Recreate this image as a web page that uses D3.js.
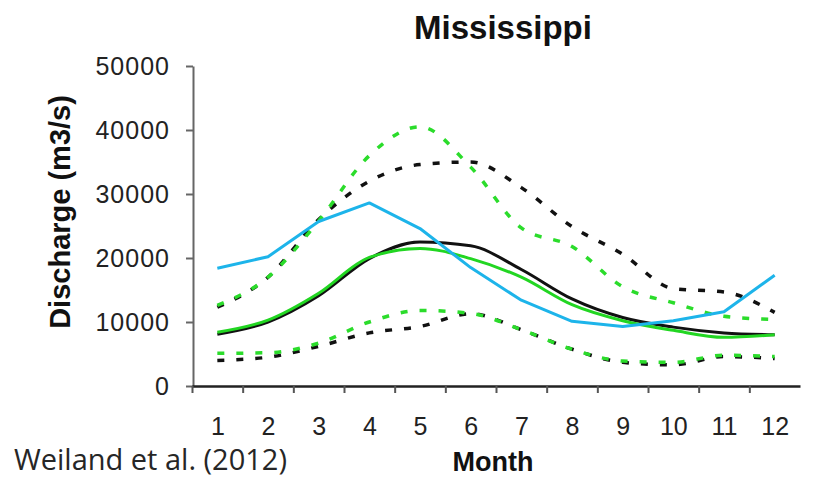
<!DOCTYPE html>
<html>
<head>
<meta charset="utf-8">
<script src="https://cdn.jsdelivr.net/npm/d3@7"></script>
<style>
  body { margin: 0; background: #fff; }
  svg { display: block; }
</style>
</head>
<body>
<svg id="canvas" width="814" height="479"></svg>
<script>
// monthly discharge of the Mississippi, m3/s
let months = [1, 2, 3, 4, 5, 6, 7, 8, 9, 10, 11, 12]
let yTicks = [0, 10000, 20000, 30000, 40000, 50000]

let blackSolid = [8100, 10000, 14100, 19900, 22500, 21900, 18200, 13600, 10700, 9200, 8300, 8000]
let greenSolid = [8400, 10300, 14500, 20100, 21500, 19900, 17000, 12700, 10200, 8700, 7600, 8000]
let cyanSolid  = [18400, 20200, 25700, 28600, 24600, 18500, 13400, 10100, 9300, 10200, 11600, 17300]
let blackUpper = [12300, 17000, 26000, 32000, 34600, 35000, 31000, 24900, 20600, 15200, 14700, 11500]
let greenUpper = [12600, 17000, 25800, 36000, 40500, 34200, 24700, 21800, 15500, 13000, 10900, 10400]
let blackLower = [4000, 4500, 6200, 8300, 9300, 11300, 8800, 5750, 3700, 3300, 4600, 4300]
let greenLower = [5100, 5200, 6700, 10000, 11800, 11350, 8800, 5750, 3900, 3700, 4800, 4600]

let canvas = d3.select('#canvas')

let xScale = d3.scaleLinear().domain([0.5, 12.5]).range([192, 800])
let yScale = d3.scaleLinear().domain([0, 50000]).range([386, 66])

let seriesList = [
  {values: blackUpper, color: '#111', width: 3.5, dash: '7,12', curve: d3.curveMonotoneX},
  {values: greenUpper, color: '#2bdc2b', width: 3.5, dash: '7,12', curve: d3.curveMonotoneX},
  {values: blackLower, color: '#111', width: 3.5, dash: '7,12', curve: d3.curveMonotoneX},
  {values: greenLower, color: '#2bdc2b', width: 3.5, dash: '7,12', curve: d3.curveMonotoneX},
  {values: blackSolid, color: '#111', width: 3, dash: null, curve: d3.curveMonotoneX},
  {values: greenSolid, color: '#22d622', width: 3, dash: null, curve: d3.curveMonotoneX},
  {values: cyanSolid, color: '#1db4ea', width: 3, dash: null, curve: d3.curveLinear}
]

let drawChart = () => {
  // y axis
  let yAxis = d3.axisLeft(yScale)
                .tickValues(yTicks)
                .tickFormat(d3.format('d'))
                .tickSize(7)
                .tickPadding(16)
                .tickSizeOuter(0)
  let yG = canvas.append('g')
                 .attr('transform', 'translate(193, 0)')
                 .call(yAxis)
  yG.select('.domain').attr('stroke', '#666').attr('stroke-width', 2)
  yG.selectAll('.tick line').attr('stroke', '#666').attr('stroke-width', 2)
  yG.selectAll('.tick text')
    .attr('font-family', 'Liberation Sans, Arial, sans-serif')
    .attr('font-size', 25)
    .attr('letter-spacing', 1)
    .attr('fill', '#222')

  // x axis, ticks sit between the months
  let xAxis = d3.axisBottom(xScale)
                .tickValues(months.map(m => m - 0.5))
                .tickSize(7)
                .tickFormat('')
                .tickSizeOuter(0)
  let xG = canvas.append('g')
                 .attr('transform', 'translate(0, 386)')
                 .call(xAxis)
  xG.select('.domain').attr('stroke', '#222').attr('stroke-width', 2.5)
  xG.selectAll('.tick line').attr('stroke', '#555').attr('stroke-width', 2)

  let labelAxis = d3.axisBottom(xScale)
                    .tickValues(months)
                    .tickSize(0)
                    .tickPadding(31)
  let lG = canvas.append('g')
                 .attr('transform', 'translate(0, 386)')
                 .call(labelAxis)
  lG.select('.domain').remove()
  lG.selectAll('.tick text')
    .attr('font-family', 'Liberation Sans, Arial, sans-serif')
    .attr('font-size', 25)
    .attr('fill', '#222')

  // lines
  seriesList.forEach((s) => {
    let line = d3.line()
                 .x((d, i) => xScale(months[i]))
                 .y((d) => yScale(d))
                 .curve(s.curve)
    canvas.append('path')
          .datum(s.values)
          .attr('d', line)
          .attr('fill', 'none')
          .attr('stroke', s.color)
          .attr('stroke-width', s.width)
          .attr('stroke-dasharray', s.dash)
          .attr('stroke-linejoin', 'round')
  })

  // titles
  canvas.append('text')
        .text('Mississippi')
        .attr('x', 503)
        .attr('y', 39)
        .attr('text-anchor', 'middle')
        .attr('font-family', 'Liberation Sans, Arial, sans-serif')
        .attr('font-weight', 'bold')
        .attr('font-size', 33)
        .attr('fill', '#111')

  canvas.append('text')
        .text('Discharge (m3/s)')
        .attr('transform', 'translate(70, 212) rotate(-90)')
        .attr('text-anchor', 'middle')
        .attr('font-family', 'Liberation Sans, Arial, sans-serif')
        .attr('font-weight', 'bold')
        .attr('font-size', 29)
        .attr('fill', '#111')

  canvas.append('text')
        .text('Month')
        .attr('x', 493)
        .attr('y', 471)
        .attr('text-anchor', 'middle')
        .attr('font-family', 'Liberation Sans, Arial, sans-serif')
        .attr('font-weight', 'bold')
        .attr('font-size', 27)
        .attr('fill', '#111')

  canvas.append('text')
        .text('Weiland et al. (2012)')
        .attr('x', 287)
        .attr('y', 470)
        .attr('text-anchor', 'end')
        .attr('font-family', 'Open Sans, sans-serif')
        .attr('font-size', 29)
        .attr('fill', '#262626')
}

drawChart()
</script>
</body>
</html>
